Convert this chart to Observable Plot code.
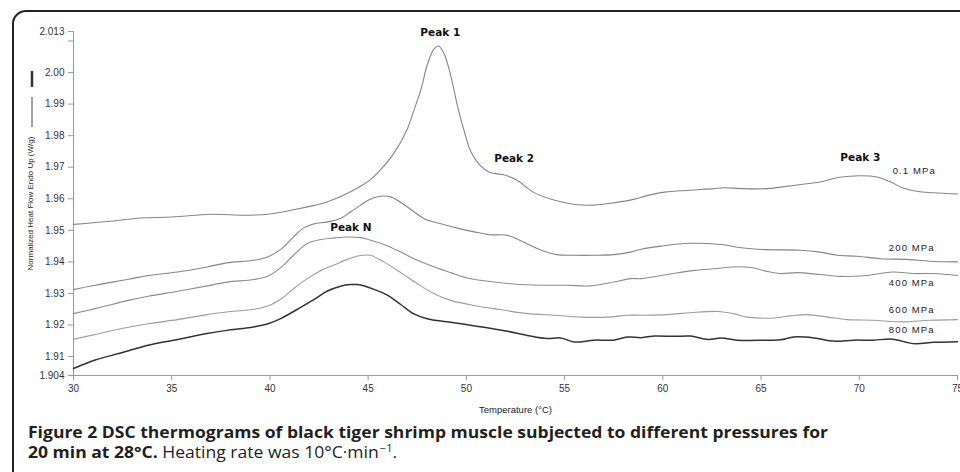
<!DOCTYPE html>
<html><head><meta charset="utf-8">
<script src="https://cdn.jsdelivr.net/npm/d3@7"></script>
<script src="https://cdn.jsdelivr.net/npm/@observablehq/plot@0.6"></script>
<style>
html,body{margin:0;padding:0;background:#fff;width:960px;height:472px;overflow:hidden;}
#wrap{position:relative;width:960px;height:472px;overflow:hidden;}
#frame{position:absolute;left:12px;top:10px;width:1000px;height:520px;border:2px solid #222;border-radius:14px;box-sizing:border-box;}
#chart{position:absolute;left:0;top:0;}
#cap{position:absolute;left:28px;top:422px;font-family:"Open Sans",sans-serif;font-size:16px;line-height:20px;color:#231f20;white-space:nowrap;}
#cap .ln{display:inline-block;transform-origin:0 50%;}
#cap b{font-weight:700}
#cap .n{font-weight:400}
#cap sup{font-size:10px;vertical-align:super;line-height:0;margin-left:1px;}
</style></head>
<body><div id="wrap"><div id="frame"></div><div id="chart"></div>
<div id="cap"><span class="ln" id="l1"><b>Figure 2 DSC thermograms of black tiger shrimp muscle subjected to different pressures for</b></span><br><span class="ln" id="l2"><b>20 min at 28°C.</b> <span class="n">Heating rate was 10°C·min<sup>−1</sup>.</span></span></div>
</div>
<script>
// ---- data (temperature °C, normalized heat flow W/g) ----
const t01 = [30,31.9,33.4,35,37,38.7,39.9,41.2,42.25,42.9,43.8,44.5,45.0,45.6,46.3,47.0,47.3,47.7,48.0,48.36,48.58,48.86,49.2,49.54,49.9,50.2,50.7,51.2,51.9,52.6,53.4,54.5,55.5,56.5,57.5,58.5,59.2,60.1,61.4,62.6,63.1,64.0,65.3,66.0,67.0,68.0,69.0,70.05,70.9,71.6,72.2,72.9,73.8,75];
const v01 = [1.9519,1.9529,1.9539,1.9542,1.9551,1.9548,1.9551,1.9565,1.9579,1.959,1.9613,1.9636,1.9655,1.969,1.9743,1.9822,1.9875,1.9949,2.0023,2.0076,2.0084,2.006,1.9991,1.9896,1.9812,1.9753,1.9706,1.9683,1.9676,1.9658,1.9621,1.9595,1.9582,1.958,1.9587,1.9598,1.961,1.9621,1.9627,1.9632,1.9635,1.9632,1.9632,1.9637,1.9645,1.9653,1.9668,1.9673,1.9669,1.9653,1.9635,1.9624,1.9619,1.9615];
const t200 = [30,31.1,32.8,33.8,35.3,36.8,37.8,39.2,39.9,40.6,41.2,41.7,42.25,42.9,43.6,44.1,44.6,45.0,45.6,46.15,47.0,47.85,48.7,49.54,50.4,51.2,52.1,52.9,53.8,54.6,55.5,56.5,57.5,58.35,58.9,59.9,61.4,62.96,64.0,65.3,67.0,68.0,68.9,69.9,71.1,72.4,73.6,75];
const v200 = [1.9312,1.9326,1.9345,1.9357,1.9368,1.9384,1.9397,1.9405,1.9416,1.9442,1.9479,1.9507,1.9521,1.9526,1.9538,1.9558,1.9579,1.9595,1.9608,1.9606,1.9574,1.9537,1.9521,1.9507,1.9495,1.9486,1.9484,1.9463,1.9437,1.9423,1.9421,1.9421,1.9423,1.9431,1.944,1.945,1.9459,1.9455,1.9445,1.9439,1.9437,1.9431,1.9421,1.9418,1.941,1.9408,1.9402,1.94];
const t400 = [30,31.1,32.8,33.8,35.3,36.8,37.8,39.2,39.9,40.6,41.2,41.9,42.6,43.3,43.95,44.6,45.0,45.8,46.66,47.5,48.36,49.2,50.05,51.2,52.4,53.8,55.1,56.3,57.5,58.35,58.9,60.25,61.6,62.8,63.5,64.5,65.3,66.0,66.84,68.0,69.0,70.4,71.7,72.75,73.8,75];
const v400 = [1.9236,1.9252,1.9278,1.9291,1.9307,1.9324,1.9336,1.9344,1.9355,1.9384,1.9421,1.9458,1.9471,1.9476,1.9479,1.9477,1.9471,1.9455,1.9431,1.9405,1.9384,1.9366,1.9349,1.9338,1.933,1.9326,1.9326,1.9324,1.9336,1.9347,1.9347,1.936,1.9373,1.9379,1.9384,1.9382,1.937,1.9363,1.9366,1.936,1.9354,1.9357,1.9368,1.9363,1.9363,1.9357];
const t600 = [30,31.1,32.4,33.8,35.3,36.8,37.8,39.2,39.9,40.6,41.2,41.9,42.6,43.3,43.95,44.6,45.1,45.8,46.66,47.5,48.36,49.2,50.4,51.7,53.1,54.5,55.8,57.2,58.2,59.0,60.25,61.4,62.8,63.6,64.3,65.66,66.5,67.35,68.4,69.4,70.7,72.2,73.6,75];
const v600 = [1.9155,1.917,1.9188,1.9204,1.9217,1.9233,1.9241,1.925,1.926,1.9284,1.9315,1.9347,1.9373,1.9391,1.9408,1.942,1.9421,1.94,1.9366,1.9331,1.9299,1.9278,1.9262,1.9249,1.9236,1.9231,1.9225,1.9225,1.9231,1.9231,1.9233,1.9239,1.9243,1.9236,1.9225,1.9222,1.9229,1.9233,1.9225,1.9217,1.9215,1.921,1.9215,1.9217];
const t800 = [30,31.1,32.4,33.8,35.3,36.8,37.8,38.9,39.9,40.6,41.4,42.25,42.9,43.6,44.1,44.46,45.3,46.0,46.66,47.3,48.0,49.0,50.05,51.07,52.1,53.1,54.1,54.8,55.5,56.5,57.5,58.2,58.9,59.6,60.6,61.4,62.3,62.96,63.8,65.3,66.0,66.67,67.7,68.7,69.7,70.7,71.7,72.75,73.8,75];
const v800 = [1.9062,1.9089,1.9111,1.9136,1.9154,1.9173,1.9183,1.9191,1.9204,1.9222,1.925,1.9281,1.9307,1.9323,1.9328,1.9328,1.9313,1.9294,1.9265,1.9236,1.922,1.921,1.9201,1.9191,1.918,1.9167,1.9157,1.9159,1.9146,1.9152,1.9152,1.9162,1.916,1.9165,1.9164,1.9165,1.9154,1.9159,1.9152,1.9152,1.9153,1.9162,1.9159,1.9149,1.9152,1.9152,1.9155,1.9141,1.9145,1.9147];

const seriesNames = ["0.1 MPa","200 MPa","400 MPa","600 MPa","800 MPa"];
const seriesT = [t01,t200,t400,t600,t800];
const seriesV = [v01,v200,v400,v600,v800];

const peakLabels = ["Peak 1","Peak 2","Peak N","Peak 3"];
const peakT = [48.67,52.43,44.12,70.05];
const peakV = [2.0125,1.9726,1.9507,1.9731];
const labelT = [72.8,72.67,72.67,72.67,72.67];
const labelV = [1.9688,1.9445,1.9332,1.9248,1.9185];

const xTicks = [30,35,40,45,50,55,60,65,70,75];
const yTicks = [1.904,1.91,1.92,1.93,1.94,1.95,1.96,1.97,1.98,1.99,2.00,2.01,2.013];
const yTickLabels = ["1.904","1.91","1.92","1.93","1.94","1.95","1.96","1.97","1.98","1.99","2.00","","2.013"];
const xLabel = "Temperature (°C)";
const yLabel = "Normalized Heat Flow Endo Up (W/g)";

// ---- build ----
const seriesColors = ["#858585","#858585","#8c8c8c","#9c9c9c","#333333"];
const seriesWidths = [1.1,1.1,1.1,1.1,1.5];
const rows = seriesNames.flatMap((s,k) => seriesT[k].map((t,i) => ({series:s, T:t, v:seriesV[k][i]})));
const peaks = peakLabels.map((l,i)=>({label:l, T:peakT[i], v:peakV[i]}));
const plabs = seriesNames.map((l,i)=>({label:l, T:labelT[i], v:labelV[i]}));
const yMap = new Map(yTicks.map((t,i)=>[t,yTickLabels[i]]));

const chart = Plot.plot({
  width:960, height:420,
  marginLeft:73, marginRight:3, marginTop:31, marginBottom:45,
  x:{domain:[30,75]},
  y:{domain:[1.904,2.013]},
  style:{fontFamily:"'Liberation Sans', Arial, sans-serif", fontSize:"10px", color:"#333", background:"transparent", overflow:"visible"},
  marks:[
    Plot.ruleX([30],{stroke:"#9a9a9a"}),
    Plot.ruleY([1.904],{stroke:"#9a9a9a"}),
    Plot.axisY({ticks:yTicks, tickFormat:d=>yMap.get(d), tickSize:5, tickPadding:4, stroke:"#9a9a9a", fill:"#333", label:null}),
    Plot.axisX({ticks:xTicks, tickSize:5, tickPadding:4, stroke:"#9a9a9a", fill:"#333", label:null}),
    ...seriesNames.map((s,k)=>Plot.line(rows.filter(r=>r.series===s), {x:"T", y:"v", stroke:seriesColors[k], strokeWidth:seriesWidths[k], curve:"catmull-rom"})),
    Plot.text(peaks,{x:"T", y:"v", text:"label", fontFamily:"'DejaVu Sans', sans-serif", fontWeight:"bold", fontSize:10.5, fill:"#111"}),
    Plot.text(plabs,{x:"T", y:"v", text:"label", fontSize:9.5, fill:"#222"}),
    Plot.text([xLabel],{frameAnchor:"bottom", dy:37, fontSize:9.5, fill:"#222"}),
    Plot.text([yLabel],{frameAnchor:"left", textAnchor:"middle", dx:-43, rotate:-90, fontSize:8, fill:"#222"})
  ]
});
document.getElementById("chart").appendChild(chart);
const svg = d3.select(chart);
svg.selectAll("text").filter(function(){return /MPa$/.test(this.textContent);}).attr("letter-spacing","1.1px");
// legend line samples beside the y label
svg.append("line").attr("x1",32).attr("x2",32).attr("y1",97).attr("y2",127).attr("stroke","#444").attr("stroke-width",1);
svg.append("line").attr("x1",32).attr("x2",32).attr("y1",71).attr("y2",87).attr("stroke","#333").attr("stroke-width",2.5);

// caption width fit
const l1 = document.getElementById("l1"), l2 = document.getElementById("l2");
const w1 = l1.getBoundingClientRect().width;
const s = 800 / w1;
l1.style.transform = `scaleX(${s})`;
l2.style.transform = `scaleX(${s})`;
</script>
</body></html>
